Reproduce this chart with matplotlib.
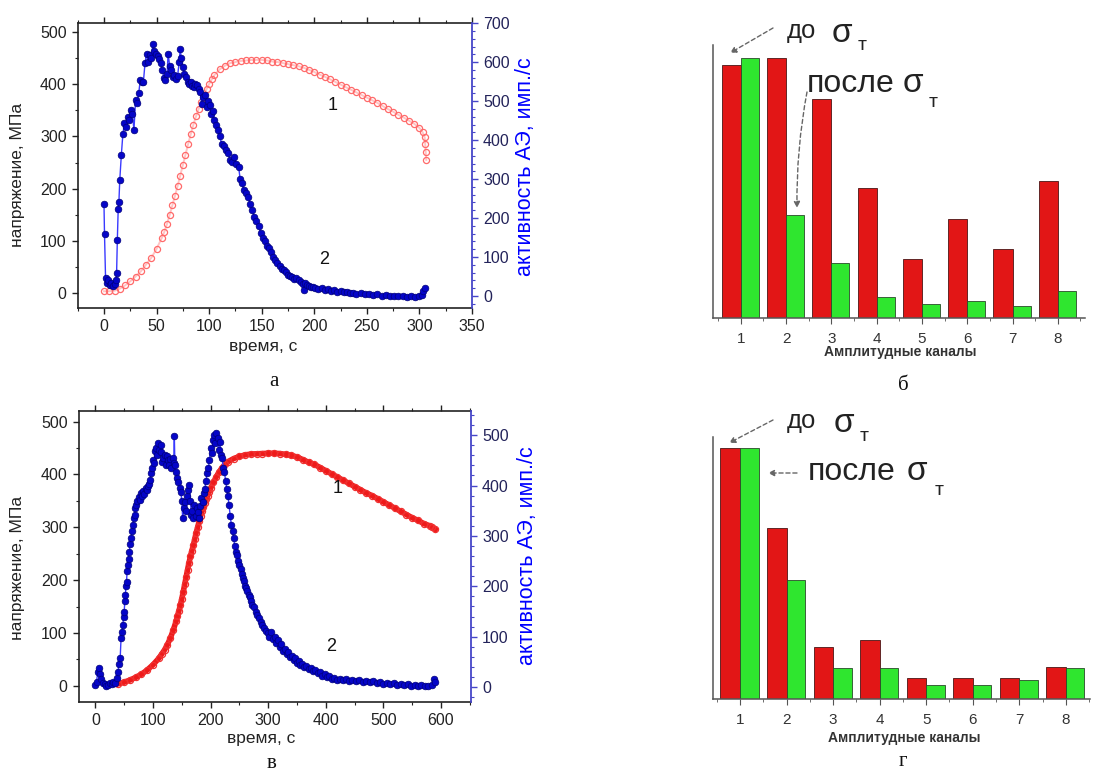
import numpy as np
import matplotlib
matplotlib.use("Agg")
import matplotlib.pyplot as plt
from matplotlib.ticker import MultipleLocator

plt.rcParams['font.family'] = ['Liberation Sans', 'DejaVu Sans']

# ---- data ----
# (a) stress, MPa vs time, s
stress_a = [(0, 4), (5, 4), (10, 5), (15, 9), (20, 15), (25, 23), (30, 32), (35, 42),
            (40, 55), (45, 68), (50, 85), (55, 106), (57.5, 118), (60, 133), (62.5, 150),
            (65, 168), (67.5, 186), (70, 205), (72.5, 225), (75, 245), (77.5, 265),
            (80, 285), (82.5, 304), (85, 322), (87.5, 338), (90, 352), (92.5, 366),
            (95, 378), (97.5, 390), (100, 400), (102.5, 409), (105, 417), (110, 428),
            (115, 435), (120, 440), (125, 442), (130, 444), (135, 445), (140, 446),
            (145, 446), (150, 446), (155, 445), (160, 443), (165, 442), (170, 440),
            (175, 438), (180, 436), (185, 434), (190, 431), (195, 427), (200, 423),
            (205, 418), (210, 414), (215, 409), (220, 404), (225, 399), (230, 394),
            (235, 389), (240, 384), (245, 379), (250, 374), (255, 369), (260, 364),
            (265, 358), (270, 352), (275, 347), (280, 341), (285, 336), (290, 330),
            (295, 324), (300, 316), (303, 308), (305, 298), (305.5, 285), (306, 270),
            (306.5, 255)]

# (a) AE activity, pulses/s vs time, s
ae_a = [(0.0, 235), (0.5, 158), (1.5, 45), (2.5, 32), (4.0, 40), (5.5, 28), (7.0, 33),
        (8.5, 25), (10.0, 31), (11.5, 42), (12.0, 60), (12.7, 144), (13.5, 222),
        (14.2, 242), (15.0, 297), (16.5, 362), (18.0, 417), (19.5, 443), (21.0, 434),
        (22.5, 460), (24.0, 452), (25.5, 477), (27.0, 468), (28.5, 426), (30.0, 503),
        (31.5, 495), (33.0, 520), (34.5, 554), (36.0, 548), (37.5, 550), (39.0, 597),
        (40.5, 622), (42.0, 600), (43.5, 618), (45.0, 612), (46.5, 646), (48.0, 630),
        (49.5, 622), (51.0, 615), (52.5, 609), (54.0, 597), (55.5, 580), (57.0, 560),
        (58.5, 554), (60.0, 570), (61.0, 622), (62.5, 590), (64.0, 580), (65.5, 562),
        (67.0, 568), (68.5, 558), (70.0, 565), (71.5, 600), (72.5, 635), (73.5, 610),
        (75.0, 588), (76.5, 571), (78.0, 562), (79.5, 550), (81.0, 545), (82.5, 548),
        (84.0, 540), (85.5, 537), (87.0, 545), (88.5, 541), (90.0, 532), (91.5, 524),
        (93.0, 494), (94.5, 511), (96.0, 515), (97.5, 485), (99.0, 500), (100.5, 490),
        (102.0, 468), (103.5, 475), (105.0, 451), (106.5, 440), (108.0, 426),
        (110.0, 410), (112.0, 391), (114.0, 385), (116.0, 374), (118.0, 366),
        (120.0, 349), (122.0, 345), (124.0, 357), (126.0, 340), (128.0, 332),
        (129.5, 300), (131.0, 289), (133.0, 272), (135.0, 265), (137.0, 255),
        (139.0, 236), (141.0, 220), (143.0, 203), (145.0, 192), (147.0, 180),
        (149.0, 161), (151.0, 150), (153.0, 140), (155.0, 128), (157.0, 122),
        (159.0, 112), (161.0, 100), (163.0, 92), (165.0, 84), (167.0, 78), (169.0, 70),
        (171.0, 66), (173.0, 62), (175.0, 55), (177.0, 52), (179.0, 48), (181.0, 44),
        (183.0, 46), (185.0, 40), (187.0, 36), (189.0, 30), (190.0, 15), (191.0, 34),
        (193.0, 28), (195.0, 26), (197.0, 22), (199.0, 24), (201.0, 20), (204.0, 18),
        (207.0, 21), (210.0, 15), (213.0, 17), (216.0, 13), (219.0, 14), (222.0, 11),
        (225.0, 12), (228.0, 9), (231.0, 10), (234.0, 7), (237.0, 8), (240.0, 6),
        (244.0, 7), (248.0, 4), (252.0, 5), (256.0, 3), (260.0, 4), (264.0, 1),
        (268.0, 2), (272.0, 0), (276.0, 1), (280.0, -1), (284.0, 0), (288.0, -2),
        (292.0, -1), (296.0, -2), (300.0, 0), (302.0, 3), (303.5, 12), (305.0, 20)]

# (в) stress, MPa vs time, s
stress_c = [(40, 4), (50, 7), (60, 11), (70, 16), (80, 22), (90, 30), (100, 40),
            (110, 52), (115, 60), (120, 68), (125, 78), (130, 90), (135, 105),
            (140, 122), (142.5, 132), (145, 142), (147.5, 153), (150, 165), (152.5, 178),
            (155, 192), (157.5, 206), (160, 220), (162.5, 233), (165, 245), (167.5, 256),
            (170, 266), (172.5, 278), (175, 290), (177.5, 300), (180, 311), (182.5, 321),
            (185, 330), (187.5, 338), (190, 346), (192.5, 353), (195, 360), (197.5, 367),
            (200, 374), (205, 385), (210, 396), (215, 405), (220, 413), (225, 419),
            (230, 424), (240, 430), (250, 434), (260, 437), (270, 438.5), (280, 439),
            (290, 439.5), (300, 440), (310, 440), (320, 439.5), (330, 438), (340, 436),
            (350, 433), (360, 428), (370, 423), (380, 419), (390, 413), (400, 407),
            (410, 401), (420, 395), (430, 389), (440, 383), (450, 377), (460, 371),
            (470, 365), (480, 360), (490, 354), (500, 348), (510, 342), (520, 336),
            (530, 330), (540, 324), (550, 318), (560, 313), (570, 307), (580, 303),
            (585, 300), (590, 296)]

# (в) AE activity, pulses/s vs time, s
ae_c = [(0, 4), (2, 10), (4, 30), (6, 37), (8, 25), (10, 17), (13, 8), (16, 7), (19, 3),
        (22, 4), (25, 8), (28, 6), (31, 11), (34, 9), (37, 18), (39, 30), (41, 45),
        (43, 57), (44.5, 97), (46, 110), (47.5, 123), (49, 140), (50, 150), (51, 170),
        (52, 183), (53, 200), (54, 209), (55, 230), (56, 242), (57.5, 255), (59, 269),
        (60.5, 285), (62, 295), (63.5, 310), (65, 322), (66.5, 335), (68, 341),
        (69.5, 355), (71, 361), (73, 370), (75, 378), (77, 372), (79, 385), (81, 380),
        (83, 390), (85, 384), (87, 395), (89, 391), (91, 400), (93, 404), (95, 412),
        (97, 424), (99, 435), (100.5, 451), (102, 445), (103.5, 468), (105, 474),
        (107, 460), (109, 484), (111, 470), (113, 467), (114.5, 480), (116, 447),
        (118, 455), (120, 461), (122, 440), (124, 458), (126, 450), (128, 441),
        (130, 452), (132, 435), (134, 454), (136, 445), (137, 499), (138, 440),
        (140, 427), (142, 415), (144, 408), (146, 395), (148, 388), (150, 370),
        (151.5, 335), (153, 355), (155, 368), (157, 350), (159, 380), (161, 392),
        (163, 401), (165, 370), (166.5, 341), (168, 350), (170, 335), (172, 361),
        (174, 340), (176, 355), (178, 348), (180, 335), (182, 360), (184, 375),
        (186, 368), (188, 385), (190, 394), (192, 410), (194, 425), (196, 434),
        (198, 450), (200, 474), (202, 465), (204, 490), (206, 500), (208, 485),
        (210, 504), (212, 495), (214, 470), (216, 487), (218, 460), (220, 454),
        (222, 435), (224, 427), (226, 410), (228, 394), (230, 380), (232, 361),
        (234, 340), (236, 322), (238, 310), (240, 295), (242, 280), (244, 269),
        (246, 262), (248, 250), (250, 242), (252, 235), (254, 225), (256, 216),
        (258, 210), (260, 200), (262, 196), (264, 190), (266, 183), (268, 178),
        (270, 170), (272, 163), (275, 158), (278, 150), (281, 143), (284, 137),
        (287, 130), (290, 123), (293, 118), (296, 112), (299, 108), (302, 100),
        (305, 110), (308, 95), (311, 100), (314, 88), (317, 93), (320, 80), (323, 85),
        (326, 72), (329, 76), (332, 66), (335, 70), (338, 60), (341, 62), (344, 54),
        (347, 57), (350, 48), (353, 52), (356, 44), (359, 46), (362, 40), (366, 42),
        (370, 36), (374, 38), (378, 32), (382, 34), (386, 27), (390, 29), (394, 23),
        (398, 25), (402, 20), (406, 22), (410, 17), (415, 19), (420, 15), (425, 17),
        (430, 14), (435, 16), (440, 12), (446, 15), (452, 12), (458, 14), (464, 10),
        (470, 13), (476, 11), (482, 12), (488, 9), (494, 11), (500, 7), (506, 9),
        (512, 6), (518, 8), (524, 5), (530, 7), (536, 4), (542, 6), (548, 3), (554, 5),
        (560, 3), (566, 4), (572, 2), (578, 3), (584, 4), (588, 17), (590, 10)]

# (б), (г) amplitude channel histograms (arbitrary units)
channels = [1, 2, 3, 4, 5, 6, 7, 8]
before_b = [76, 78.2, 65.7, 39, 17.8, 29.7, 20.7, 41.2]
after_b = [78.2, 31, 16.7, 6.5, 4.2, 5.3, 3.7, 8.3]
before_d = [75.3, 51.5, 15.8, 17.8, 6.3, 6.3, 6.3, 9.8]
after_d = [75.3, 35.8, 9.5, 9.5, 4.3, 4.3, 5.8, 9.5]

W, H = 1093, 776
fig = plt.figure(figsize=(W / 100, H / 100), dpi=100)


def box(l, t, r, b):
    return [l / W, 1 - b / H, (r - l) / W, (b - t) / H]


def ftext(x, y, s, **kw):
    fig.text(x / W, 1 - y / H, s, **kw)


BLUE_AX = '#4646c8'


def curve_panel(rect, stress, ae, xlim, ylim, ylim2, xmaj, xmin, ae_max, red_mec, red_line, red_lw):
    ax = fig.add_axes(rect)
    ax2 = ax.twinx()
    t, s = zip(*stress)
    ax.plot(t, s, '-', color=red_line, lw=red_lw, zorder=1)
    ax.plot(t, s, 'o', mfc='none', mec=red_mec, ms=4.4, mew=0.9, zorder=2)
    t2, v = zip(*ae)
    ax2.plot(t2, v, '-', color='#3a3aff', lw=1.0)
    ax2.plot(t2, v, 'o', mfc='#0505c8', mec='#00007a', ms=4.8, mew=0.5)
    ax.set_xlim(*xlim)
    ax.set_ylim(*ylim)
    ax2.set_ylim(*ylim2)
    ax.xaxis.set_major_locator(MultipleLocator(xmaj))
    ax.xaxis.set_minor_locator(MultipleLocator(xmin))
    ax.yaxis.set_major_locator(MultipleLocator(100))
    ax.yaxis.set_minor_locator(MultipleLocator(50))
    ax.set_yticks(np.arange(0, 501, 100))
    ax2.set_yticks(np.arange(0, ae_max + 1, 100))
    ax2.yaxis.set_minor_locator(MultipleLocator(20))
    ax.tick_params(which='both', direction='out', top=True, right=False,
                   labelsize=11.5, labelcolor='#222222', color='#222222')
    ax.tick_params(which='major', length=4, width=1, pad=4)
    ax.tick_params(which='minor', length=2.5, width=0.8)
    ax2.tick_params(which='both', direction='out', color=BLUE_AX, labelsize=11.5,
                    labelcolor='#23235a')
    ax2.tick_params(which='major', length=4, width=1, pad=4)
    ax2.tick_params(which='minor', length=2, width=0.8)
    for sp in ax.spines.values():
        sp.set_color('#222222')
        sp.set_linewidth(1.2)
    for name in ('left', 'top', 'bottom'):
        ax2.spines[name].set_visible(False)
    ax2.spines['right'].set_color(BLUE_AX)
    ax2.spines['right'].set_linewidth(1.3)
    ax.spines['right'].set_visible(False)
    return ax, ax2


# ---- (а) ----
ax_a, ax_a2 = curve_panel(box(77.7, 23.3, 472, 308), stress_a, ae_a, (-25, 350), (-28, 516),
                          (-31, 700), 50, 25, 700, '#ff6a6a', '#ffc4c4', 1.4)
ax_a.text(217.5, 359, '1', fontsize=13, ha='center', va='center', color='#111111')
ax_a.text(209.5, 64, '2', fontsize=13, ha='center', va='center', color='#111111')
ftext(18, 175, 'напряжение, МПа', rotation=90, ha='center', va='center', fontsize=12.5,
      color='#222222')
ftext(263, 346, 'время, с', ha='center', va='center', fontsize=12.5, color='#222222')
ftext(526, 167, 'активность АЭ, имп./с', rotation=90, ha='center', va='center',
      fontsize=15.5, color='#0000ff')

# ---- (в) ----
ax_c, ax_c2 = curve_panel(box(78.7, 411, 471, 701.7), stress_c, ae_c, (-29, 652), (-30, 520),
                          (-29, 548), 100, 50, 500, '#f03030', '#ee1a1a', 4.0)
ax_c.text(420.7, 374, '1', fontsize=13, ha='center', va='center', color='#111111')
ax_c.text(409, 74, '2', fontsize=13, ha='center', va='center', color='#111111')
ftext(18, 568, 'напряжение, МПа', rotation=90, ha='center', va='center', fontsize=12.5,
      color='#222222')
ftext(261, 738, 'время, с', ha='center', va='center', fontsize=12.5, color='#222222')
ftext(527, 556, 'активность АЭ, имп./с', rotation=90, ha='center', va='center',
      fontsize=15.5, color='#0000ff')

RED = '#e21616'
GREEN = '#2fe62f'


def bar_panel(rect, before, after, xlim, ylim):
    ax = fig.add_axes(rect)
    x = np.array(channels)
    ax.bar(x - 0.42, before, width=0.42, align='edge', color=RED, edgecolor='#4a1515', lw=0.6)
    ax.bar(x, after, width=0.40, align='edge', color=GREEN, edgecolor='#2a4a2a', lw=0.6)
    ax.set_xlim(*xlim)
    ax.set_ylim(*ylim)
    ax.set_xticks(x)
    ax.xaxis.set_minor_locator(MultipleLocator(0.5))
    ax.set_yticks([])
    for name in ('top', 'right'):
        ax.spines[name].set_visible(False)
    for name in ('left', 'bottom'):
        ax.spines[name].set_color('#555555')
        ax.spines[name].set_linewidth(1.1)
    ax.tick_params(axis='x', which='both', direction='out', color='#555555',
                   labelsize=11, labelcolor='#333333')
    ax.tick_params(axis='x', which='major', length=4, pad=6)
    ax.tick_params(axis='x', which='minor', length=2)
    ax.patch.set_alpha(0)
    return ax


def arrow(ax, start, end, rad=0.0):
    ax.annotate('', xy=(end[0], H - end[1]), xytext=(start[0], H - start[1]),
                xycoords='figure pixels', textcoords='figure pixels',
                arrowprops=dict(arrowstyle='-|>', color='#666666', lw=1.0,
                                linestyle=(0, (3, 2)), mutation_scale=9,
                                connectionstyle='arc3,rad=%s' % rad,
                                shrinkA=0, shrinkB=0))


# ---- (б) ----
ax_b = bar_panel(box(712.7, 45, 1085, 318.3), before_b, after_b, (0.382, 8.60), (0, 82))
ftext(900, 352, 'Амплитудные каналы', ha='center', va='center', fontsize=10,
      fontweight='bold', color='#333333')
ftext(787, 38, 'до', ha='left', va='baseline', fontsize=18.5, color='#222222')
ftext(832, 42, 'σ', ha='left', va='baseline', fontsize=24, color='#222222')
ftext(858, 50, 'т', ha='left', va='baseline', fontsize=14, color='#222222')
ftext(807, 92, 'после', ha='left', va='baseline', fontsize=23, color='#222222')
ftext(903, 92, 'σ', ha='left', va='baseline', fontsize=24, color='#222222')
ftext(929, 107, 'т', ha='left', va='baseline', fontsize=14, color='#222222')
arrow(ax_b, (773, 28), (730, 53))
arrow(ax_b, (807, 92), (797, 208), rad=0.05)

# ---- (г) ----
ax_d = bar_panel(box(712.7, 436.7, 1090, 699.3), before_d, after_d, (0.413, 8.52), (0, 78.8))
ftext(904, 738, 'Амплитудные каналы', ha='center', va='center', fontsize=10,
      fontweight='bold', color='#333333')
ftext(787, 428, 'до', ha='left', va='baseline', fontsize=18.5, color='#222222')
ftext(834, 432, 'σ', ha='left', va='baseline', fontsize=24, color='#222222')
ftext(860, 441, 'т', ha='left', va='baseline', fontsize=14, color='#222222')
ftext(808, 480, 'после', ha='left', va='baseline', fontsize=23, color='#222222')
ftext(907, 480, 'σ', ha='left', va='baseline', fontsize=24, color='#222222')
ftext(935, 495, 'т', ha='left', va='baseline', fontsize=14, color='#222222')
arrow(ax_d, (773, 420), (729, 443))
arrow(ax_d, (797, 473), (768, 473))

# panel letters
for x, y, s in [(274, 381, 'а'), (903, 386, 'б'), (272, 763, 'в'), (903, 762, 'г')]:
    ftext(x, y, s, ha='center', va='center', fontsize=15, family='Liberation Serif',
          color='#111111')

fig.savefig('out.png', dpi=100)
